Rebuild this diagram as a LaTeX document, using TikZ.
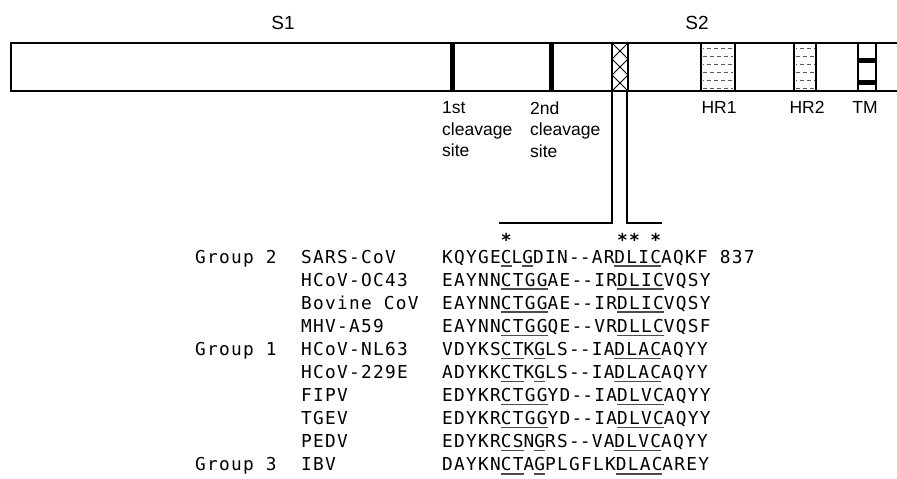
\documentclass[tikz,border=0pt]{standalone}
\usepackage{fontspec}
\setmainfont{Liberation Sans}
\newfontfamily\seqfont[LetterSpace=7.2]{DejaVu Sans Mono}
\usetikzlibrary{positioning}

\newsavebox\useqbox
\newcommand\useq[1]{\sbox\useqbox{#1}\rlap{\color{black!70}\rule[-3.6pt]{\wd\useqbox}{1.4pt}}\usebox\useqbox}
\newcommand\gap{-\kern0pt-}

\begin{document}
\begin{tikzpicture}[x=1pt, y=-1pt,
  spikebar/.style={line width=2.6pt},
  sitebar/.style={line width=5pt},
  rim/.style={line width=2.2pt},
  hatchline/.style={black!65, line width=0.9pt, dash pattern=on 4pt off 3pt},
  linkline/.style={line width=2pt},
  headlbl/.style={font=\fontsize{19}{22}\selectfont, inner sep=0pt},
  lbl/.style={font=\fontsize{17.5}{21.5}\selectfont, inner sep=0pt},
  seqtxt/.style={font=\seqfont\fontsize{17.8}{20}\selectfont, anchor=base west, inner sep=0pt}]
\useasboundingbox (0,0) rectangle (897,479);

% spike protein bar
\draw[spikebar] (900,43) -- (11,43) -- (11,91) -- (900,91);
\draw[sitebar] (452.5,43) -- (452.5,91);
\draw[sitebar] (551,43) -- (551,91);

% fusion peptide region
\draw[rim] (612,43) -- (612,91) (628,43) -- (628,91);
\draw[line width=1pt] (612,43) -- (628,59) -- (612,75) -- (628,91);
\draw[line width=1pt] (628,43) -- (612,59) -- (628,75) -- (612,91);

% HR1, HR2
\draw[rim] (701,43) -- (701,91) (735,43) -- (735,91);
\draw[rim] (794,43) -- (794,91) (816,43) -- (816,91);
\foreach \y [count=\k] in {48,56,64,72,80,88} {
  \draw[hatchline, dash phase=\k*3.5pt] (703,\y) -- (733,\y);
  \draw[hatchline, dash phase=\k*3.5pt] (796,\y) -- (814,\y);
}

% TM
\draw[rim] (858,43) -- (858,91) (876,43) -- (876,91);
\draw[sitebar] (858,60.5) -- (876,60.5);
\draw[sitebar] (858,82.5) -- (876,82.5);

% labels
\node[headlbl] (s1) at (283,23) {S1};
\node[headlbl] (s2) at (697,23) {S2};
\node[lbl, anchor=north west, align=left] (site1) at (442,101.5) {1st\\cleavage\\site};
\node[lbl, anchor=north west, align=left] (site2) at (530,101.5) {2nd\\cleavage\\site};
\node[lbl] (hr1) at (719,107) {HR1};
\node[lbl] (hr2) at (807,107) {HR2};
\node[lbl] (tm) at (865,107) {TM};

% alignment
\node[seqtxt, font=\seqfont\bfseries\fontsize{17.8}{20}\selectfont] (stars) at (442,246)
  {\hphantom{KQYGE}*\hphantom{LGDIN\gap AR}**\hphantom{L}*};
\foreach \vir/\aa [count=\i] in {
  SARS-CoV/KQYGE\useq{C}L\useq{G}DIN\gap AR\useq{DLIC}AQKF 837,
  HCoV-OC43/EAYNN\useq{CTGG}AE\gap IR\useq{DLIC}VQSY,
  Bovine CoV/EAYNN\useq{CTGG}AE\gap IR\useq{DLIC}VQSY,
  MHV-A59/EAYNN\useq{CTGG}QE\gap VR\useq{DLLC}VQSF,
  HCoV-NL63/VDYKS\useq{CT}K\useq{G}LS\gap IA\useq{DLAC}AQYY,
  HCoV-229E/ADYKK\useq{CT}K\useq{G}LS\gap IA\useq{DLAC}AQYY,
  FIPV/EDYKR\useq{CTGG}YD\gap IA\useq{DLVC}AQYY,
  TGEV/EDYKR\useq{CTGG}YD\gap IA\useq{DLVC}AQYY,
  PEDV/EDYKR\useq{CS}N\useq{G}RS\gap VA\useq{DLVC}AQYY,
  IBV/DAYKN\useq{CT}A\useq{G}PLGFLK\useq{DLAC}AREY} {
  \node[seqtxt] (vir\i) at (301,{263+23.1*(\i-1)}) {\vir};
  \node[seqtxt] (seq\i) at (442,{263+23.1*(\i-1)}) {\aa};
}
\node[seqtxt] (grp2) at (195,263) {Group 2};
\node[seqtxt] (grp1) at (195,{263+23.1*4}) {Group 1};
\node[seqtxt] (grp3) at (195,{263+23.1*9}) {Group 3};

% connector from fusion peptide to alignment
\coordinate (fusL) at (612,91);
\coordinate (fusR) at (627,91);
\coordinate (brL) at (499,223);
\coordinate (brR) at (662,223);
\draw[linkline] (fusL) |- (brL);
\draw[linkline] (fusR) |- (brR);
\end{tikzpicture}
\end{document}
